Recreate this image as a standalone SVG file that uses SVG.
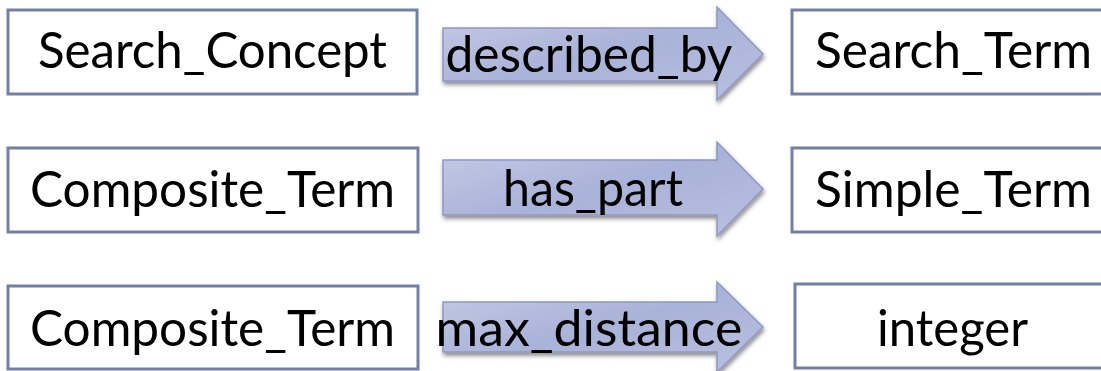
<svg xmlns="http://www.w3.org/2000/svg" width="1101" height="371" viewBox="0 0 1101 371">
<style>
.box{fill:#ffffff;stroke:#7380a6;stroke-width:3}
.arrow{fill:url(#ag);stroke:#8d98c4;stroke-width:1.5;filter:url(#sh)}
text{font-family:Lato,"Open Sans","Liberation Sans",sans-serif;font-size:51px;fill:#000;text-anchor:middle}
</style>
<defs>
<linearGradient id="ag" x1="0" y1="0" x2="1" y2="1">
<stop offset="0" stop-color="#c6cbe6"/>
<stop offset="0.5" stop-color="#a9b2d8"/>
<stop offset="1" stop-color="#b9c0e0"/>
</linearGradient>
<filter id="sh" x="-10%" y="-20%" width="120%" height="150%">
<feDropShadow dx="1" dy="3" stdDeviation="2" flood-color="#000" flood-opacity="0.45"/>
</filter>
</defs>
<g id="connectors">
<g id="edge-described_by">
<path class="arrow" d="M443,28 H717 V7 L763,54 L717,100 V81 H443 Z"/>
<text x="589" y="72" textLength="287" lengthAdjust="spacingAndGlyphs">described_by</text>
</g>
<g id="edge-has_part">
<path class="arrow" d="M443,160 H717 V142 L763,189 L717,236 V215 H443 Z"/>
<text x="593" y="206" textLength="180" lengthAdjust="spacingAndGlyphs">has_part</text>
</g>
<g id="edge-max_distance">
<path class="arrow" d="M443,302 H717 V282 L763,327 L717,372 V352 H443 Z"/>
<text x="589" y="346" textLength="307" lengthAdjust="spacingAndGlyphs">max_distance</text>
</g>
</g>
<g id="node-search_concept">
<rect class="box" x="8" y="10" width="409" height="84"/>
<text x="212.5" y="68" textLength="349" lengthAdjust="spacingAndGlyphs">Search_Concept</text>
</g>
<g id="node-composite_term_1">
<rect class="box" x="8" y="148" width="410" height="84"/>
<text x="212.5" y="207" textLength="365" lengthAdjust="spacingAndGlyphs">Composite_Term</text>
</g>
<g id="node-composite_term_2">
<rect class="box" x="8" y="286" width="410" height="83"/>
<text x="212.5" y="346" textLength="365" lengthAdjust="spacingAndGlyphs">Composite_Term</text>
</g>
<g id="node-search_term">
<rect class="box" x="792" y="10" width="322" height="84"/>
<text x="953.5" y="68" textLength="277" lengthAdjust="spacingAndGlyphs">Search_Term</text>
</g>
<g id="node-simple_term">
<rect class="box" x="792" y="148" width="322" height="84"/>
<text x="953.5" y="207" textLength="277" lengthAdjust="spacingAndGlyphs">Simple_Term</text>
</g>
<g id="node-integer">
<rect class="box" x="795" y="284" width="322" height="84"/>
<text x="952.5" y="346" textLength="151" lengthAdjust="spacingAndGlyphs">integer</text>
</g>
</svg>
